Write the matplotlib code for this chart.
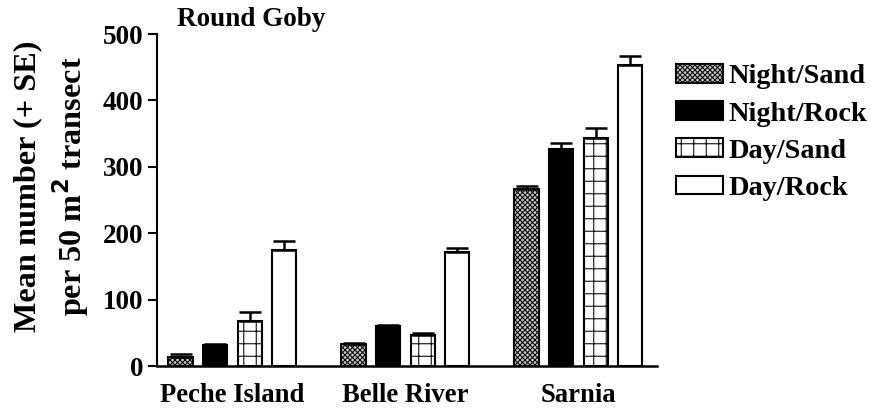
"""
    Round goby counts per transect, by site and diel period / substrate.
"""

import numpy as np
import matplotlib.pyplot as plt
from matplotlib.patches import Patch

plt.rcParams['font.family'] = ['Liberation Serif', 'DejaVu Serif']
plt.rcParams['font.weight'] = 'bold'
plt.rcParams['hatch.linewidth'] = 0.5

# ------------------------------------------------------------
# Data
# ------------------------------------------------------------

sites = ['Peche Island', 'Belle River', 'Sarnia']
series = ['Night/Sand', 'Night/Rock', 'Day/Sand', 'Day/Rock']

night_sand = [14, 33, 267]
night_rock = [31, 60, 327]
day_sand = [68, 46, 343]
day_rock = [175, 172, 453]

night_sand_se = [4, 2, 4]
night_rock_se = [2, 2, 9]
day_sand_se = [14, 3, 15]
day_rock_se = [14, 5, 14]

# fill style per series: (facecolor, hatch)
styles = [
    ('#c8c8c8', 'xxxxxxxxxx'),
    ('black', None),
    ('white', '++'),
    ('white', None),
]

DPI = 150
W, H = 871, 408


def main() -> None:
    fig = plt.figure(figsize=(W / DPI, H / DPI), dpi=DPI)
    ax = fig.add_axes([157 / W, 1 - 366 / H, 500 / W, 332 / H])

    means = [night_sand, night_rock, day_sand, day_rock]
    errs = [night_sand_se, night_rock_se, day_sand_se, day_rock_se]

    centers = np.arange(len(sites)) * 5.0
    offsets = [-1.5, -0.5, 0.5, 1.5]

    for i, name in enumerate(series):
        face, hatch = styles[i]
        ax.bar(
            centers + offsets[i], means[i], width=0.7,
            color=face, edgecolor='black', hatch=hatch, linewidth=1.0,
            yerr=[np.zeros(len(sites)), errs[i]],
            error_kw=dict(ecolor='black', elinewidth=1.2, capsize=5.5, capthick=1.2),
            label=name, zorder=2,
        )

    ax.set_xlim(-2.18, 12.27)
    ax.set_ylim(0, 500)
    ax.set_yticks([0, 100, 200, 300, 400, 500])
    ax.set_xticks(centers)
    ax.set_xticklabels(sites, fontsize=12.8, fontweight='bold')
    ax.tick_params(axis='x', length=0, pad=8)
    ax.tick_params(axis='y', length=4.5, width=1, labelsize=13, pad=2)
    for lbl in ax.get_yticklabels():
        lbl.set_fontweight('bold')

    for side in ['top', 'right']:
        ax.spines[side].set_visible(False)
    ax.spines['left'].set_linewidth(1.0)
    ax.spines['bottom'].set_linewidth(1.2)

    # two-line y label, each line placed on its own
    fig.text(28 / W, 1 - 186 / H, 'Mean number (+ SE)',
             fontsize=15.5, fontweight='bold', rotation=90,
             ha='center', va='center')
    fig.text(71 / W, 1 - 186 / H, 'per 50 m$^{\\mathbf{2}}$ transect',
             fontsize=15.5, fontweight='bold', rotation=90,
             ha='center', va='center')

    fig.text(177 / W, 1 - 19 / H, 'Round Goby', fontsize=13,
             fontweight='bold', ha='left', va='center')

    handles = [
        Patch(facecolor=styles[k][0], edgecolor='black', hatch=styles[k][1],
              linewidth=1.0)
        for k in range(len(series))
    ]
    fig.legend(handles, series, loc='upper left',
               bbox_to_anchor=(676 / W, 1 - 64 / H),
               frameon=False, handlelength=1.66, handleheight=0.64,
               handletextpad=0.18, labelspacing=0.42, borderpad=0,
               borderaxespad=0,
               prop={'weight': 'bold', 'size': 13.6})

    fig.savefig('out.png', dpi=DPI)
    plt.close(fig)


if __name__ == '__main__':
    main()
